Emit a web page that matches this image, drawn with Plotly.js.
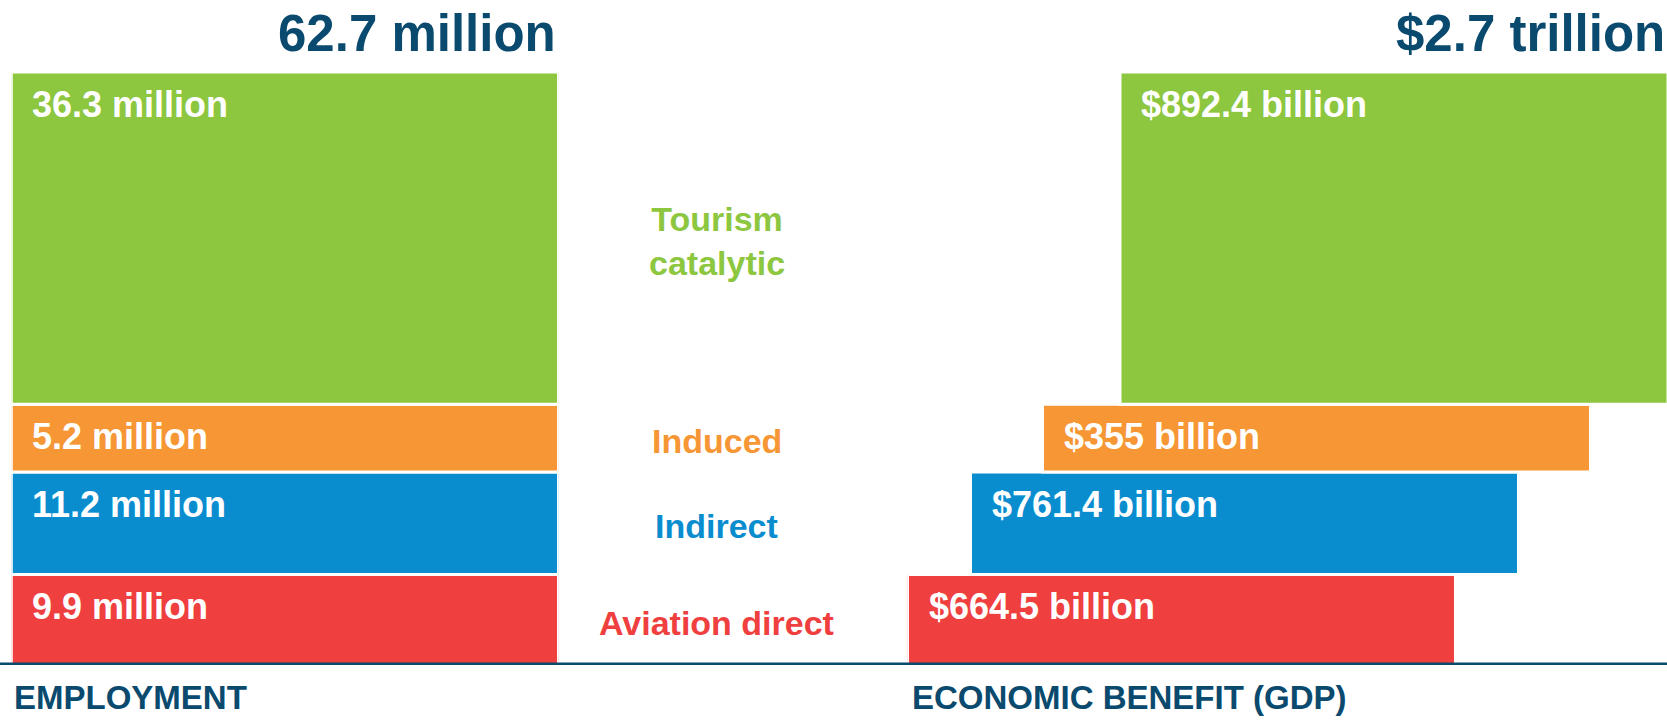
<!DOCTYPE html>
<html>
<head>
<meta charset="utf-8">
<script src="https://cdn.plot.ly/plotly-3.0.1.min.js"></script>
<style>
	html, body { margin: 0; padding: 0; background: #fff; }
	#chart { width: 1667px; height: 721px; }
</style>
</head>
<body>
<div id="chart"></div>
<script>
// Rows listed from the bottom of the stack upwards
const categories = ['Aviation direct', 'Indirect', 'Induced', 'Tourism<br>catalytic']
const jobsMillions = [9.9, 11.2, 5.2, 36.3]
const gdpBillions = [664.5, 761.4, 355, 892.4]
const totalJobs = '62.7 million'
const totalGdp = '$2.7 trillion'
const panelTitles = ['EMPLOYMENT', 'ECONOMIC BENEFIT (GDP)']

const colors = ['#ef3f3f', '#0a8dcf', '#f69635', '#8dc63f']
const navy = '#0a4a6e'
const font = 'Liberation Sans, Arial, sans-serif'

// the graphic keeps small rows tall enough to hold their label
const MIN_ROW = 7.4

// GDP column is drawn as a staircase, each row nudged right (in bar widths)
const stepShift = [0, 0.115, 0.2464, 0.3878]
const gdpSpan = 1.386

// row heights and stack bases
const rowHeights = jobsMillions.map(v => Math.max(v, MIN_ROW))
const bases = []
let run = 0
rowHeights.forEach(h => { bases.push(run); run += h })
const stackTop = run

const traces = []
categories.forEach((cat, i) => {
	const common = {
		type: 'bar',
		y: [rowHeights[i]],
		base: [bases[i]],
		width: [1],
		marker: { color: colors[i], line: { color: '#fff', width: 3 } },
		hoverinfo: 'skip',
		showlegend: false,
		yaxis: 'y',
	}
	traces.push(Object.assign({}, common, { x: [0], xaxis: 'x', name: cat + ' jobs' }))
	traces.push(Object.assign({}, common, { x: [stepShift[i] + 0.5], xaxis: 'x2', name: cat + ' GDP' }))
})

const annotations = []

categories.forEach((cat, i) => {
	const rowTop = bases[i] + rowHeights[i]

	// value labels, top-left inside each bar
	annotations.push({
		text: jobsMillions[i] + ' million',
		x: -0.5, xref: 'x', xanchor: 'left', xshift: 19,
		y: rowTop, yref: 'y', yanchor: 'top', yshift: -10,
		showarrow: false,
		font: { family: font, size: 36, color: '#fff', weight: 'bold' },
	})
	annotations.push({
		text: '$' + gdpBillions[i] + ' billion',
		x: stepShift[i], xref: 'x2', xanchor: 'left', xshift: 19,
		y: rowTop, yref: 'y', yanchor: 'top', yshift: -10,
		showarrow: false,
		font: { family: font, size: 36, color: '#fff', weight: 'bold' },
	})

	// category names between the two panels
	annotations.push({
		text: cat,
		x: 0.43, xref: 'paper', xanchor: 'center',
		y: bases[i] + rowHeights[i] / 2, yref: 'y', yanchor: 'middle', yshift: -3,
		showarrow: false,
		align: 'center',
		font: { family: font, size: 34, color: colors[i], weight: 'bold' },
	})
})

// totals above each column
annotations.push({
	text: totalJobs,
	x: 0.5, xref: 'x', xanchor: 'right',
	y: stackTop, yref: 'y', yanchor: 'bottom', yshift: 8,
	showarrow: false,
	font: { family: font, size: 51, color: navy, weight: 'bold' },
})
annotations.push({
	text: totalGdp,
	x: gdpSpan, xref: 'x2', xanchor: 'right',
	y: stackTop, yref: 'y', yanchor: 'bottom', yshift: 8,
	showarrow: false,
	font: { family: font, size: 51, color: navy, weight: 'bold' },
})

// panel names under the baseline
annotations.push({
	text: panelTitles[0],
	x: -0.5, xref: 'x', xanchor: 'left', xshift: 1,
	y: 0, yref: 'y', yanchor: 'top', yshift: -12,
	showarrow: false,
	font: { family: font, size: 33, color: navy, weight: 'bold' },
})
annotations.push({
	text: panelTitles[1],
	x: 0, xref: 'x2', xanchor: 'left', xshift: 2,
	y: 0, yref: 'y', yanchor: 'top', yshift: -12,
	showarrow: false,
	font: { family: font, size: 33, color: navy, weight: 'bold' },
})

const layout = {
	width: 1667,
	height: 721,
	margin: { l: 0, r: 0, t: 72, b: 56, pad: 0 },
	paper_bgcolor: '#fff',
	plot_bgcolor: '#fff',
	barmode: 'overlay',
	showlegend: false,
	xaxis: { domain: [0.00678, 0.33503], range: [-0.5, 0.5], visible: false, fixedrange: true },
	xaxis2: { domain: [0.5444, 1], range: [0, gdpSpan], visible: false, anchor: 'y', fixedrange: true },
	yaxis: { domain: [0, 1], range: [0, stackTop], visible: false, fixedrange: true },
	annotations: annotations,
	shapes: [{
		type: 'line', layer: 'above',
		xref: 'paper', x0: 0, x1: 1,
		yref: 'y', y0: 0, y1: 0,
		line: { color: navy, width: 5 },
	}],
}

Plotly.newPlot('chart', traces, layout, { staticPlot: true, displayModeBar: false })
</script>
</body>
</html>
